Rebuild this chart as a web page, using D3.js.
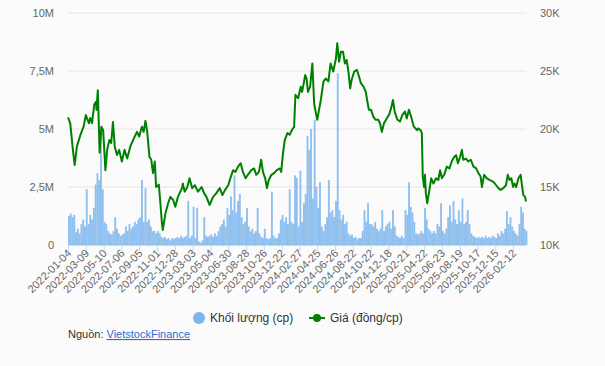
<!DOCTYPE html>
<html>
<head>
<meta charset="utf-8">
<script src="https://cdn.jsdelivr.net/npm/d3@7"></script>
<style>
  body { margin: 0; background: #fbfbfb; }
  text { font-family: "Liberation Sans", Arial, sans-serif; }
</style>
</head>
<body>
<div class="canvas"></div>
<script>
// tick labels on the category (trading day) axis, one every 40 sessions
const dateLabels = ['2022-01-04','2022-03-09','2022-05-10','2022-07-06','2022-09-05','2022-11-01','2022-12-28',
  '2023-03-03','2023-05-04','2023-06-30','2023-08-28','2023-10-26','2023-12-22','2024-02-27','2024-04-25',
  '2024-06-26','2024-08-22','2024-10-22','2024-12-18','2025-02-21','2025-04-22','2025-06-23','2025-08-19',
  '2025-10-17','2025-12-15','2026-02-12'];
const labelStep = 40;
const totalDays = 1029;

// price (dong/cp), read at these trading-day positions
const priceDays = [0,5,11,15,20,28,35,40,47,50,54,59,63,64,67,71,75,79,84,88,93,97,101,105,110,115,121,127,133,140,148,155,160,166,170,174,178,183,187,191,195,198,204,207,211,213,219,225,230,236,241,247,256,258,262,268,273,279,285,292,300,306,311,318,326,333,341,347,353,360,366,371,376,382,388,393,399,404,412,418,423,429,434,438,443,447,451,457,463,469,476,479,483,487,493,498,503,508,511,517,523,526,533,536,539,544,549,553,557,560,564,568,574,579,585,590,596,602,605,609,613,618,622,626,630,634,637,643,649,654,658,664,669,672,676,681,686,691,697,701,705,710,716,721,726,730,734,740,746,751,757,761,766,771,777,784,787,792,795,797,800,802,804,807,812,816,821,827,832,836,840,845,851,857,862,868,872,876,881,885,888,894,899,905,911,917,922,927,930,935,941,948,956,962,967,972,978,984,988,992,996,1000,1003,1007,1012,1017,1020,1023,1027,1029];
const priceVals = [21000,20500,18200,16900,18500,19500,20200,21200,20500,20950,20500,22100,22350,21650,23350,17950,20200,19900,16450,18200,19050,18800,20600,18500,17750,18200,17200,18200,17450,18500,19200,19750,19350,20200,19750,20700,19750,17600,17350,16200,17200,15000,15200,13900,11900,11300,12750,13600,14150,13900,13300,14150,14900,15300,14600,15000,15750,14900,15150,14600,15000,14450,14150,13450,14150,14450,14900,14300,14750,15150,15900,16450,16300,16750,17050,16300,15750,16050,16450,16600,16050,16300,17350,16300,15750,14900,15600,16050,16200,16450,16600,16300,17900,19050,19650,19500,19900,20200,22950,22650,23650,23200,24650,24350,23200,23650,25650,22200,21350,20800,21650,22500,24100,24350,24100,25650,24950,26100,27400,25800,26650,26650,25650,25950,24950,23500,24200,24950,25100,24500,23950,23650,23200,22500,21650,21650,21050,20800,20800,20500,19750,20500,20900,21200,21800,22500,21500,20800,20650,21200,21500,20900,21650,21050,20200,19900,20050,19900,19650,15900,15000,16050,14450,13600,14750,15750,15300,15750,15600,16450,15750,16050,16750,16600,17200,17600,17750,17050,17600,18200,17350,17450,17200,17350,16750,16600,16200,15900,15000,16050,15750,15600,15450,15150,14900,14750,14900,15150,16050,15600,15750,15000,15300,15000,15750,16050,15150,14300,14150,13750];

// volume (million shares), one value per 4 sessions
const volStep = 4;
const volumeM = [
  1.25,1.35,1.2,1.3,0.55,0.7,0.5,0.9,1.1,0.8,
  2.4,0.9,1.3,1.1,1.6,2.6,3.1,2.8,4.9,2.4,
  1.0,0.9,0.6,0.5,0.45,0.6,1.2,0.7,0.5,0.4,
  0.45,0.5,0.8,0.6,0.9,0.7,0.8,1.0,0.9,1.1,
  1.2,2.8,1.0,2.45,1.0,1.1,0.8,0.6,0.6,0.5,
  0.6,0.5,0.35,0.3,0.35,0.25,0.3,0.2,0.3,0.25,
  0.3,0.35,0.3,0.4,0.3,0.35,0.4,1.9,0.3,0.4,
  1.65,0.3,1.6,0.15,0.1,0.2,1.2,0.4,0.35,0.4,
  0.45,0.35,0.5,0.4,0.6,0.8,0.9,1.1,0.8,1.6,
  1.3,2.1,1.5,3.0,1.4,1.9,2.2,1.2,0.9,1.0,
  1.6,0.8,0.6,0.7,0.5,0.6,1.6,0.5,0.35,0.3,
  0.7,0.3,0.25,0.3,2.3,0.4,0.3,0.3,0.5,1.1,
  1.3,1.0,1.2,0.9,2.4,1.0,0.9,3.0,2.9,0.8,
  3.2,1.0,1.8,2.2,4.7,4.1,5.0,2.0,5.4,2.5,
  1.6,2.7,0.8,0.6,0.9,1.2,2.8,1.4,1.5,1.2,
  1.9,7.4,1.5,1.1,1.3,0.9,1.0,0.5,0.4,0.45,
  0.3,0.35,0.25,0.3,0.3,0.6,1.5,1.0,1.8,0.9,
  0.9,0.8,1.0,0.7,0.6,0.7,1.5,0.6,0.8,0.9,
  1.0,0.7,1.5,0.8,0.4,0.35,0.3,0.4,0.3,1.5,
  1.3,2.7,1.65,1.4,1.0,0.5,0.45,0.5,0.6,0.5,
  1.6,1.1,0.7,0.6,0.5,0.6,0.5,0.9,0.8,1.8,
  0.6,0.5,0.7,1.2,1.7,1.0,1.9,1.1,0.9,1.5,
  1.0,2.0,0.9,1.0,1.5,0.9,0.5,0.4,0.35,0.3,
  0.35,0.3,0.35,0.3,0.4,0.3,0.35,0.3,0.4,0.35,
  0.3,0.5,0.4,0.6,0.5,0.7,1.45,0.9,1.2,0.8,
  0.6,0.5,0.4,0.9,1.65,1.4,0.7,0.6];

const volTicks = [0, 2.5e6, 5e6, 7.5e6, 10e6];
const priceTicks = [10000, 15000, 20000, 25000, 30000];

const dims = {width: 605, height: 366};
const plot = {left: 68, right: 526, top: 13, bottom: 245};

const svg = d3.select('.canvas')
  .append('svg')
  .attr('width', dims.width)
  .attr('height', dims.height);

svg.append('rect').attr('width', dims.width).attr('height', dims.height).attr('fill', '#fbfbfb');

const x = d3.scaleLinear().domain([0, totalDays]).range([plot.left, plot.right]);
const yVol = d3.scaleLinear().domain([0, 10e6]).range([plot.bottom, plot.top]);
const yPrice = d3.scaleLinear().domain([10000, 30000]).range([plot.bottom, plot.top]);

// gridlines
svg.append('g')
  .selectAll('line')
  .data(volTicks)
  .join('line')
  .attr('x1', plot.left).attr('x2', plot.right)
  .attr('y1', d => yVol(d)).attr('y2', d => yVol(d))
  .attr('stroke', '#e6e6e6');

// left axis (volume)
const fmtVol = d => d === 0 ? '0' : String(d / 1e6).replace('.', ',') + 'M';
const leftAxis = svg.append('g')
  .attr('transform', `translate(${plot.left - 14},0)`)
  .call(d3.axisLeft(yVol).tickValues(volTicks).tickFormat(fmtVol).tickSize(0).tickPadding(0));
leftAxis.select('.domain').remove();

// right axis (price)
const fmtPrice = d => (d / 1000) + 'K';
const rightAxis = svg.append('g')
  .attr('transform', `translate(${plot.right + 14},0)`)
  .call(d3.axisRight(yPrice).tickValues(priceTicks).tickFormat(fmtPrice).tickSize(0).tickPadding(0));
rightAxis.select('.domain').remove();

svg.selectAll('.tick text')
  .attr('fill', '#666')
  .style('font-size', '11px')
  .style('font-family', '"Liberation Sans", Arial, sans-serif');

// volume columns
const bw = x(volStep) - x(0);
svg.append('g')
  .selectAll('rect')
  .data(volumeM)
  .join('rect')
  .attr('x', (d, i) => x(i * volStep))
  .attr('width', bw + 0.1)
  .attr('y', d => yVol(d * 1e6))
  .attr('height', d => plot.bottom - yVol(d * 1e6))
  .attr('fill', '#7cb5ec')
  .attr('fill-opacity', 0.85);

// x axis line + ticks + rotated labels
svg.append('line')
  .attr('x1', plot.left).attr('x2', plot.right)
  .attr('y1', plot.bottom + 0.5).attr('y2', plot.bottom + 0.5)
  .attr('stroke', '#ccd6eb');

const xt = svg.append('g');
xt.selectAll('line')
  .data(dateLabels)
  .join('line')
  .attr('x1', (d, i) => x(i * labelStep) + 0.5)
  .attr('x2', (d, i) => x(i * labelStep) + 0.5)
  .attr('y1', plot.bottom).attr('y2', plot.bottom + 6)
  .attr('stroke', '#ccd6eb');
xt.selectAll('text')
  .data(dateLabels)
  .join('text')
  .attr('transform', (d, i) => `translate(${x(i * labelStep) + 4},${plot.bottom + 9}) rotate(-45)`)
  .attr('text-anchor', 'end')
  .attr('fill', '#666')
  .style('font-size', '11px')
  .text(d => d);

// price line
const priceData = priceDays.map((d, i) => [d, priceVals[i]]);
svg.append('path')
  .datum(priceData)
  .attr('fill', 'none')
  .attr('stroke', '#008000')
  .attr('stroke-width', 2)
  .attr('stroke-linejoin', 'round')
  .attr('d', d3.line().x(d => x(d[0])).y(d => yPrice(d[1])));

// legend
const lg = svg.append('g').attr('transform', 'translate(0,318)');
lg.append('circle').attr('cx', 199).attr('cy', 0).attr('r', 6).attr('fill', '#7cb5ec');
lg.append('text').attr('x', 210).attr('y', 4).attr('fill', '#333').style('font-size', '12px').text('Khối lượng (cp)');
lg.append('line').attr('x1', 309).attr('x2', 325).attr('y1', 0).attr('y2', 0).attr('stroke', '#008000').attr('stroke-width', 2);
lg.append('circle').attr('cx', 317).attr('cy', 0).attr('r', 4).attr('fill', '#008000');
lg.append('text').attr('x', 330).attr('y', 4).attr('fill', '#333').style('font-size', '12px').text('Giá (đồng/cp)');

// source
const src = svg.append('text').attr('x', 68).attr('y', 338).attr('fill', '#333').style('font-size', '11px');
src.append('tspan').text('Nguồn: ');
src.append('tspan').attr('fill', '#2f6bd0').attr('text-decoration', 'underline').text('VietstockFinance');
</script>
</body>
</html>
